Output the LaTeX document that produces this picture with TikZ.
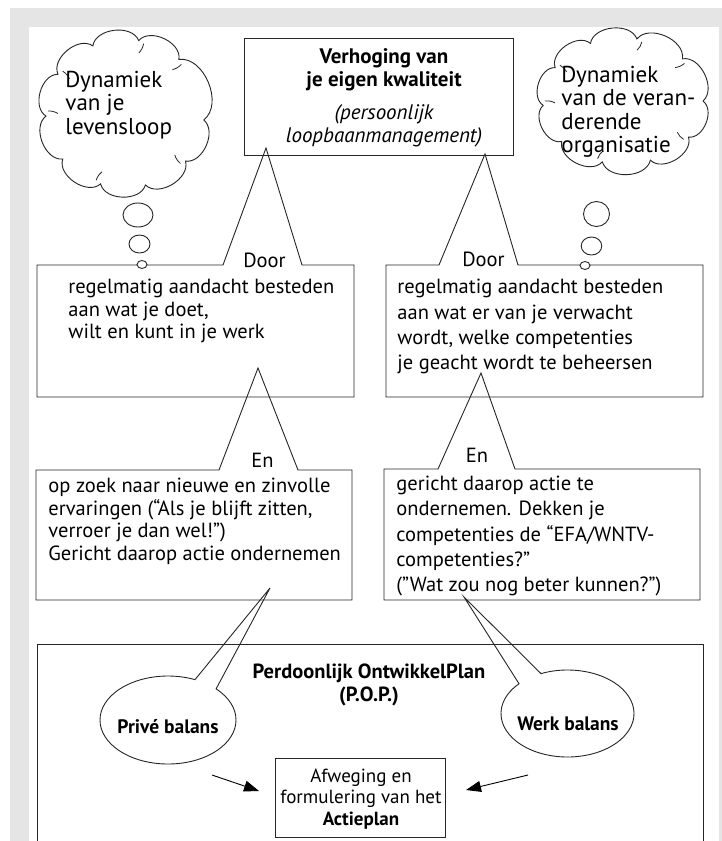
\documentclass[tikz,border=0pt]{standalone}
\usepackage{fontspec}
\setmainfont{PT Sans}
\usetikzlibrary{arrows.meta}
\newcommand{\topline}{\rule{0pt}{20pt}}
\begin{document}
\begin{tikzpicture}[x=1pt,y=-1pt,line width=0.9pt,
  every node/.style={inner sep=0pt},
  outline/.style={draw=black!85,line width=0.9pt},
  body/.style={align=left,font=\fontsize{20.5}{22.5}\selectfont},
  bodyr/.style={align=left,font=\fontsize{20.5}{25.3}\selectfont},
  cloudtxt/.style={align=left,font=\fontsize{23}{23.3}\selectfont},
  word/.style={font=\fontsize{20.5}{22}\selectfont},
  bubble/.style={outline,fill=white},
  tick/.style={draw=black!85,line width=0.8pt},
  arr/.style={draw=black,line width=0.9pt,-{Triangle[length=15pt,width=11pt]}}
]
% background
\fill[white] (0,0) rectangle (722,841);
\fill[gray!20] (10,8) rectangle (722,841);
\fill[white] (29,27) rectangle (719,841);
\useasboundingbox (0,0) rectangle (722,841);

% top box
\draw[outline] (244,38) rectangle (513,155);
\node[anchor=north,align=center,font=\bfseries\fontsize{21}{23}\selectfont] (toptxt) at (384,43)
  {\topline Verhoging van\\je eigen kwaliteit};
\node[anchor=north,align=center,font=\itshape\fontsize{21}{23}\selectfont] (topsub) at (384,99)
  {\topline (persoonlijk\\loopbaanmanagement)};

% left cloud
\coordinate (lcc) at (125,113.5);
\draw[outline,fill=white] ([shift={(lcc)}]5:79 and 74)
  foreach \a in {40,75,108,142,178,212,246,280,313,365} { to[bend left=75] ([shift={(lcc)}]\a:79 and 74) };
\foreach \a in {40,108,178,212,280,313} {
  \draw[tick] ([shift={(lcc)}]\a+4:77 and 72) to[bend left=15] ([shift={(lcc)}]\a+2:67 and 62);
}
\node[cloudtxt,anchor=north west] (lctxt) at (65,67) {\topline Dynamiek\\van je\\levensloop};

% right cloud
\coordinate (rcc) at (623,101);
\draw[outline,fill=white] ([shift={(rcc)}]0:80 and 63)
  foreach \a in {35,70,105,140,176,212,246,280,318,360} { to[bend left=75] ([shift={(rcc)}]\a:80 and 63) };
\foreach \a in {35,105,176,212,280,318} {
  \draw[tick] ([shift={(rcc)}]\a+4:78 and 61) to[bend left=15] ([shift={(rcc)}]\a+2:68 and 52);
}
\node[cloudtxt,anchor=north west] (rctxt) at (561,62) {\topline Dynamiek\\van de veran-\\derende\\organisatie};

% callout L1
\coordinate (l1apex) at (266,148);
\draw[outline] (37,265) -- (223,265) -- (l1apex) -- (302,265) -- (354,265) -- (354,397) -- (37,397) -- cycle;
\node[word,anchor=base] (door1) at (264.5,267) {Door};
\node[body,anchor=north west] (l1txt) at (68,273.3) {\topline regelmatig aandacht besteden\\aan wat je doet,\\wilt en kunt in je werk};

% callout R1
\coordinate (r1apex) at (485,154);
\draw[outline] (386,265) -- (439,265) -- (r1apex) -- (518,265) -- (703,265) -- (703,397) -- (386,397) -- cycle;
\node[word,anchor=base] (door2) at (483.5,266) {Door};
\node[bodyr,anchor=north west] (r1txt) at (397,273.3) {\topline regelmatig aandacht besteden\\aan wat er van je verwacht\\wordt, welke competenties\\je geacht wordt te beheersen};

% thought bubbles
\draw[bubble] (138,215) ellipse [x radius=15,y radius=12];
\draw[bubble] (139.5,244) ellipse [x radius=10.5,y radius=9];
\draw[bubble] (142,264.5) ellipse [x radius=5,y radius=4];
\draw[bubble] (596.5,214) ellipse [x radius=13,y radius=12.5];
\draw[bubble] (591.5,246) ellipse [x radius=10.3,y radius=9];
\draw[bubble] (585,265.5) ellipse [x radius=5,y radius=4];

% callout L2
\coordinate (l2apex) at (258,368);
\draw[outline] (36,470) -- (219,470) -- (l2apex) -- (298,470) -- (352,470) -- (352,600) -- (36,600) -- cycle;
\node[word,anchor=base] (en1) at (262.5,467) {En};
\node[body,anchor=north west] (l2txt) at (48,472.5) {\topline op zoek naar nieuwe en zinvolle\\ervaringen (“Als je blijft zitten,\\verroer je dan wel!”)\\Gericht daarop actie ondernemen};

% callout R2
\coordinate (r2apex) at (481,373);
\draw[outline] (384,469) -- (438,469) -- (r2apex) -- (515,469) -- (700,469) -- (700,600) -- (384,600) -- cycle;
\node[word,anchor=base] (en2) at (477,462) {En};
\node[bodyr,anchor=north west] (r2txt) at (396,470) {\topline gericht daarop actie te\\ondernemen. Dekken je\\competenties de “EFA/WNTV-\\competenties?”\\(”Wat zou nog beter kunnen?”)};

% big box
\draw[outline] (37,850) -- (37,644) -- (703,644) -- (703,850);
\node[anchor=north,align=center,font=\bfseries\fontsize{20.5}{23}\selectfont] (poptxt) at (369,658)
  {\topline Perdoonlijk OntwikkelPlan\\(P.O.P.)};

% prive balans callout
\coordinate (pc) at (168,720);
\coordinate (papex) at (270,588);
\draw[outline] (pc) ++(315:68 and 44) arc[start angle=315,end angle=653.4,x radius=68,y radius=44] -- (papex) -- cycle;
\node[anchor=base,font=\bfseries\fontsize{19.5}{22}\selectfont] (prive) at (168,733) {Privé balans};

% werk balans callout
\coordinate (wc) at (567.5,713.5);
\coordinate (wapex) at (464,597);
\draw[outline] (wc) ++(246.5:66.5 and 43.5) arc[start angle=246.5,end angle=583.2,x radius=66.5,y radius=43.5] -- (wapex) -- cycle;
\node[anchor=base,font=\bfseries\fontsize{19.5}{22}\selectfont] (werk) at (568,730) {Werk balans};

% actieplan box
\node[outline,minimum width=170pt,minimum height=79pt] (actie) at (360,797.5) {};
\node[anchor=north,align=center,font=\fontsize{19}{21.5}\selectfont] (actietxt) at (361,762)
  {\topline Afweging en\\formulering van het\\\textbf{Actieplan}};

% arrows
\coordinate (pa1) at (212,775);
\coordinate (pa2) at (259,791);
\coordinate (wa1) at (528,775);
\coordinate (wa2) at (466,790);
\draw[arr] (pa1) -- (pa2);
\draw[arr] (wa1) -- (wa2);
\end{tikzpicture}
\end{document}
